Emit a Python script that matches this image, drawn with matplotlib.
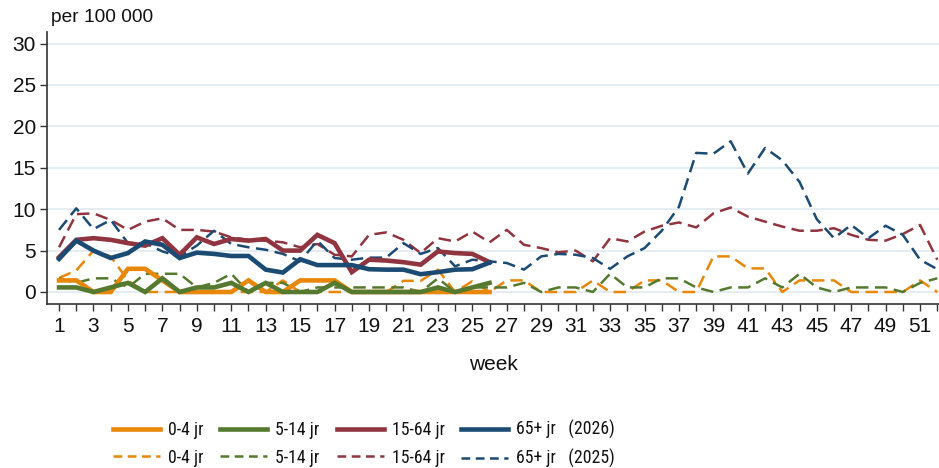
import matplotlib
import numpy as np

matplotlib.use("Agg")
import matplotlib.pyplot as plt  # noqa: E402
from matplotlib import font_manager  # noqa: E402
from matplotlib.lines import Line2D  # noqa: E402

plt.rcParams["font.family"] = ["Liberation Sans", "DejaVu Sans"]

weeks_2026 = list(range(1, 27))
weeks_2025 = list(range(1, 53))

# 2026 (solid)
age04_2026 = [1.4, 1.4, 0, 0, 2.8, 2.8, 1.4, 0, 0, 0, 0, 1.4, 0, 0, 1.4, 1.4, 1.4,
              0, 0, 0, 0, 0, 0, 0, 0, 0]
age514_2026 = [0.55, 0.55, 0, 0.55, 1.1, 0, 1.65, 0, 0.55, 0.55, 1.1, 0, 1.1, 0, 0, 0,
               1.1, 0, 0, 0, 0, 0, 0.55, 0, 0.55, 1.1]
age1564_2026 = [4.2, 6.3, 6.5, 6.3, 5.9, 5.6, 6.5, 4.5, 6.6, 5.8, 6.4, 6.2, 6.4, 5.0,
                5.0, 6.9, 5.9, 2.4, 3.9, 3.8, 3.6, 3.3, 4.9, 4.7, 4.6, 3.6]
age65_2026 = [4.0, 6.2, 5.0, 4.1, 4.7, 6.1, 5.7, 4.1, 4.75, 4.6, 4.35, 4.35, 2.7, 2.35,
              3.95, 3.25, 3.25, 3.25, 2.75, 2.7, 2.7, 2.15, 2.4, 2.7, 2.75, 3.55]

# 2025 (dashed)
age04_2025 = [1.7, 2.6, 5.0, 4.3, 1.4, 0, 0, 0, 0, 0, 0, 0, 0, 1.4, 0, 0, 0, 0, 0, 0,
              1.35, 1.35, 2.7, 0, 1.3, 0,
              1.4, 1.4, 0, 0, 0, 1.4, 0, 0, 1.4, 1.4, 0, 0, 4.3, 4.3, 2.85, 2.85, 0,
              1.4, 1.4, 1.4, 0, 0, 0, 0, 1.4, 0]
age514_2025 = [1.65, 1.1, 1.65, 1.65, 0.55, 2.2, 2.2, 2.2, 0.55, 1.1, 2.2, 0,
               1.1, 1.1, 0, 0.55, 0.55, 0.55, 0.55, 0.55, 0.55, 0, 1.65, 0, 0.55, 0.55,
               0.55, 1.1, 0, 0.55, 0.55, 0, 2.2, 0.55, 0.55,
               1.65, 1.65, 0.55, 0, 0.55, 0.55, 1.65, 0.55,
               2.2, 0.55, 0, 0.55, 0.55, 0.55, 0, 1.1, 1.65]
age1564_2025 = [5.4, 9.4, 9.5, 8.7, 7.5, 8.5, 8.9, 7.5, 7.5, 7.3, 6.6, 6.3, 6.2, 6.0, 5.4, 5.8,
                4.5, 4.3, 6.9, 7.2, 6.3, 4.7, 6.5, 6.1, 7.3, 6.0,
                7.5, 5.7, 5.3, 4.8, 5.0, 3.7, 6.5, 6.1, 7.3,
                8.0, 8.4, 7.8, 9.5, 10.2, 9.1, 8.5, 7.9,
                7.4, 7.4, 7.7, 6.9, 6.3, 6.2, 7.0, 8.1, 3.9]
age65_2025 = [7.5, 10.1, 7.6, 8.7, 5.9, 5.9, 4.9, 4.3, 5.6, 7.4, 5.8, 5.4, 5.1, 4.6, 3.7, 6.2,
              4.1, 3.9, 4.15, 4.15, 5.9, 4.6, 5.3, 3.1, 3.9, 3.7,
              3.5, 2.7, 4.3, 4.6, 4.5, 4.1, 2.8, 4.3, 5.3,
              7.4, 10.3, 16.8, 16.7, 18.2, 14.3, 17.4, 15.9,
              13.3, 8.8, 6.5, 8.1, 6.5, 8.0, 6.9, 3.9, 2.75]

groups = ["0-4 jr", "5-14 jr", "15-64 jr", "65+ jr"]
colors = ["#e8870a", "#557a2f", "#903540", "#1b4a72"]
series_2026 = [age04_2026, age514_2026, age1564_2026, age65_2026]
series_2025 = [age04_2025, age514_2025, age1564_2025, age65_2025]

# the legend in the original uses a narrow face; take one if present
installed = {f.name for f in font_manager.fontManager.ttflist}
legend_family, legend_size = "Liberation Sans", 11.5
for name in ["Liberation Sans Narrow", "Arial Narrow", "Roboto Condensed", "Archivo Narrow"]:
    if name in installed:
        legend_family, legend_size = name, 12.8
        break

fig = plt.figure(figsize=(9.39, 4.68), dpi=100)
ax = fig.add_axes([47 / 939, 1 - 304 / 468, 1 - 47 / 939, (304 - 32) / 468])

for y in range(0, 31, 5):
    ax.axhline(y, color="#e6edf2", lw=1.4, zorder=0)

DASH = (5, 2.6)
for vals, c in zip(series_2025, colors):
    ax.plot(weeks_2025, vals, color=c, lw=1.8, dashes=DASH, zorder=2)
for vals, c in zip(series_2026, colors):
    ax.plot(weeks_2026, vals, color=c, lw=3.3, solid_joinstyle="miter", zorder=3)

ax.set_xlim(0.3, 52.1)
ax.set_ylim(-1.45, 31.4)
ax.set_yticks(range(0, 31, 5))
ax.set_xticks(weeks_2025)
ax.set_xticklabels([str(w) if w % 2 else "" for w in weeks_2025])
ax.tick_params(axis="both", labelsize=15, length=5, width=1, color="#333333",
               labelcolor="#111111", pad=3)
ax.tick_params(axis="x", pad=4)
for s in ["top", "right"]:
    ax.spines[s].set_visible(False)
for s in ["left", "bottom"]:
    ax.spines[s].set_color("#333333")
    ax.spines[s].set_linewidth(1.2)
ax.set_xlabel("week", fontsize=15, labelpad=14, color="#111111")
fig.text(51 / 939, 1 - 17 / 468, "per 100 000", fontsize=13.75, va="center", ha="left",
         color="#111111")

handles, labels = [], []
for i, (g, c) in enumerate(zip(groups, colors)):
    handles.append(Line2D([], [], color=c, lw=3.3))
    handles.append(Line2D([], [], color=c, lw=1.8, dashes=(3.5, 2.2)))
    if i == 3:
        labels += [g + "   (2026)", g + "   (2025)"]
    else:
        labels += [g, g]
fig.legend(handles, labels, ncol=4, loc="center left", frameon=False,
           bbox_to_anchor=(113 / 939, 1 - 444 / 468), borderpad=0, borderaxespad=0,
           prop={"family": legend_family, "size": legend_size},
           handlelength=47 / (legend_size * 100 / 72), handletextpad=0.45,
           columnspacing=0.95, labelspacing=0.55, labelcolor="#111111")

fig.savefig("out.png", dpi=100)
